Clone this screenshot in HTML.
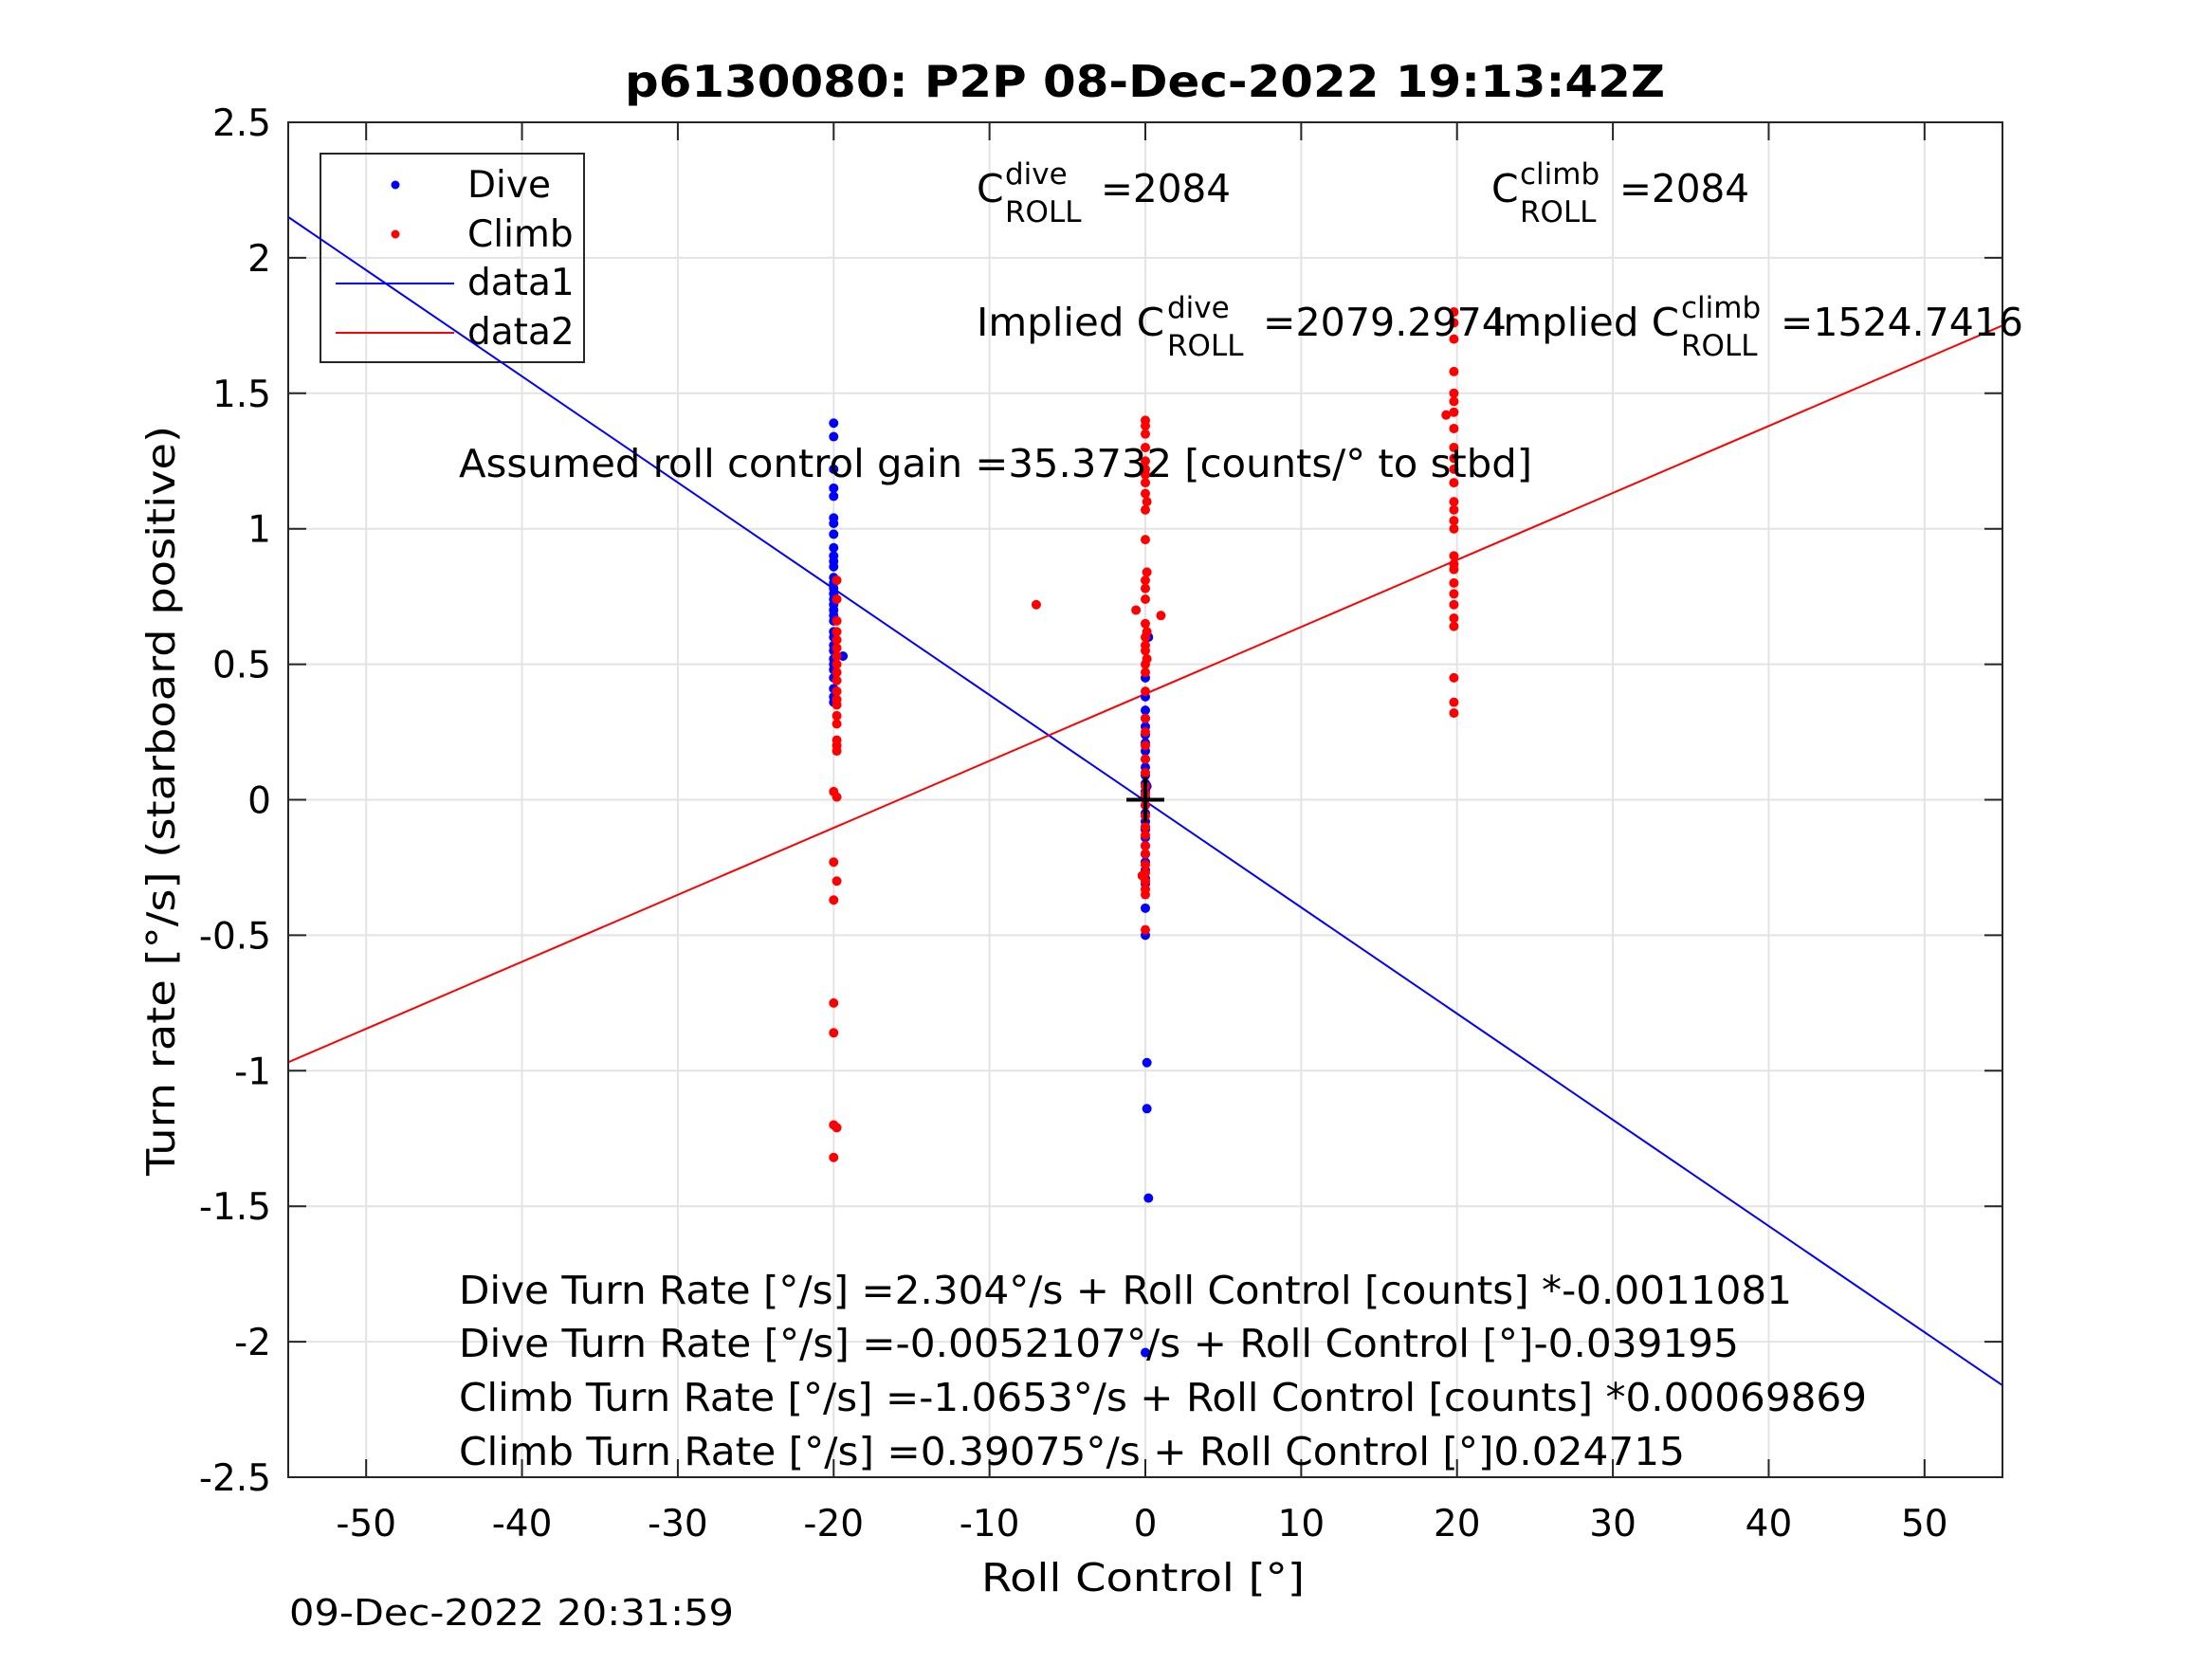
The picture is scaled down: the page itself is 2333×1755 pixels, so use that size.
<!DOCTYPE html>
<html><head><meta charset="utf-8"><style>
body{margin:0;background:#fff}
svg text{font-family:"DejaVu Sans","Liberation Sans",sans-serif;fill:#000}
</style></head><body>
<svg id="chart" width="2333" height="1750" viewBox="0 0 2333 1750" xmlns="http://www.w3.org/2000/svg">
<rect width="2333" height="1750" fill="#fff"/>
<g id="grid"></g>
<g>
<rect x="338" y="162" width="278" height="220" fill="none" stroke="#262626" stroke-width="2"/>
<circle cx="417" cy="195" r="4.5" fill="#00f"/><text x="493" y="208" font-size="39">Dive</text>
<circle cx="417" cy="247" r="4.5" fill="#f00"/><text x="493" y="260" font-size="39">Climb</text>
<line x1="354" y1="299" x2="479" y2="299" stroke="#00f" stroke-width="2"/><text x="493" y="311" font-size="39">data1</text>
<line x1="354" y1="351" x2="479" y2="351" stroke="#f00" stroke-width="2"/><text x="493" y="363" font-size="39">data2</text>
</g>
<g id="lines"></g>
<g id="pts"></g>
<g id="axes"></g>
<text x="659" y="102" font-size="46" font-weight="bold" textLength="1097" lengthAdjust="spacingAndGlyphs">p6130080: P2P 08-Dec-2022 19:13:42Z</text>
<g font-size="41">
<text x="1030" y="213">C</text><text x="1060" y="194" font-size="31">dive</text><text x="1060" y="234" font-size="31">ROLL</text><text x="1161" y="213" textLength="137" lengthAdjust="spacingAndGlyphs">=2084</text></g>
<g font-size="41">
<text x="1573" y="213">C</text><text x="1603" y="194" font-size="31">climb</text><text x="1603" y="234" font-size="31">ROLL</text><text x="1708" y="213" textLength="137" lengthAdjust="spacingAndGlyphs">=2084</text></g>
<g font-size="41">
<text x="1030" y="354" textLength="198" lengthAdjust="spacingAndGlyphs">Implied C</text><text x="1231" y="335" font-size="31">dive</text><text x="1231" y="375" font-size="31">ROLL</text><text x="1332" y="354" textLength="257" lengthAdjust="spacingAndGlyphs">=2079.2974</text></g>
<g font-size="41">
<text x="1573" y="354" textLength="198" lengthAdjust="spacingAndGlyphs">Implied C</text><text x="1773" y="335" font-size="31">climb</text><text x="1773" y="375" font-size="31">ROLL</text><text x="1878" y="354" textLength="256" lengthAdjust="spacingAndGlyphs">=1524.7416</text></g>
<text x="484" y="503" font-size="41" textLength="1132" lengthAdjust="spacingAndGlyphs">Assumed roll control gain =35.3732 [counts/° to stbd]</text>
<g font-size="41">
<text x="484" y="1375" textLength="1406" lengthAdjust="spacingAndGlyphs">Dive Turn Rate [°/s] =2.304°/s + Roll Control [counts] *-0.0011081</text>
<text x="484" y="1431" textLength="1350" lengthAdjust="spacingAndGlyphs">Dive Turn Rate [°/s] =-0.0052107°/s + Roll Control [°]-0.039195</text>
<text x="484" y="1488" textLength="1485" lengthAdjust="spacingAndGlyphs">Climb Turn Rate [°/s] =-1.0653°/s + Roll Control [counts] *0.00069869</text>
<text x="484" y="1545" textLength="1293" lengthAdjust="spacingAndGlyphs">Climb Turn Rate [°/s] =0.39075°/s + Roll Control [°]0.024715</text></g>
<text x="1035" y="1678" font-size="41" fill="#262626" textLength="341" lengthAdjust="spacingAndGlyphs">Roll Control [°]</text>
<text transform="translate(184,1240) rotate(-90)" font-size="41" fill="#262626" textLength="791" lengthAdjust="spacingAndGlyphs">Turn rate [°/s] (starboard positive)</text>
<text x="305" y="1714" font-size="38" textLength="469" lengthAdjust="spacingAndGlyphs">09-Dec-2022 20:31:59</text>
</svg>
<script>
const xTicks=[-50,-40,-30,-20,-10,0,10,20,30,40,50];
const yTicks=[-2.5,-2,-1.5,-1,-0.5,0,0.5,1,1.5,2,2.5];
const yTickLabels=["-2.5","-2","-1.5","-1","-0.5","0","0.5","1","1.5","2","2.5"];
// dive points (x = roll control deg, y = turn rate)
const diveX=[
-20,-20,-20,-20,-20,-20,-20,-20,-20,-20,
-20,-20,-20,-20,-20,-20,-20,-20,-20,-20,
-20,-20,-20,-20,-20,-20,-20,-20,-20,-20,
-20,-20,-19.4,
0.2,0,0,0,0,0,0,0,0,0,
0,0,0,0,0,0,0,0,0,0,
0,0,0,0,0,0,0,0,0,0,
0.1,0.1,0,0.1,0.2];
const diveY=[
1.39,1.34,1.22,1.15,1.12,1.04,1.02,0.98,0.93,0.9,
0.88,0.86,0.82,0.8,0.78,0.76,0.74,0.72,0.7,0.68,
0.66,0.62,0.6,0.57,0.55,0.52,0.5,0.48,0.45,0.41,
0.38,0.36,0.53,
0.6,0.45,0.38,0.33,0.3,0.27,0.24,0.21,0.18,0.15,
0.12,0.09,0.06,0.03,0.01,-0.02,-0.05,-0.08,-0.11,-0.14,
-0.17,-0.2,-0.23,-0.26,-0.29,-0.31,-0.4,-0.5,-0.2,-0.1,
-0.97,-1.14,-2.04,0.05,-1.47];
// climb points
const climbX=[
-19.8,-19.8,-19.8,-19.8,-19.8,-19.8,-19.8,-19.8,-19.8,-19.8,
-19.8,-19.8,-19.8,-19.8,-19.8,-19.8,-19.8,-19.8,-20,-19.8,
-20,-19.8,-20,-20,-20,-20,-19.8,-20,
-7,
0,0,0,0,0,0,0,0,0,0.1,
0,0,0.1,0,0,0,-0.6,1,0,0.1,
0,0,0,0.1,0,0,0,0,0,0,
0,0,0,0,0,0,0,0,0,0,
0,0,0,0,0,-0.2,0,
19.8,19.8,19.8,19.8,19.8,19.8,19.3,19.8,19.8,19.8,
19.8,19.8,19.8,19.8,19.8,19.8,19.8,19.8,19.8,19.8,
19.8,19.8,19.8,19.8,19.8,19.8,19.8,19.8];
const climbY=[
0.81,0.74,0.66,0.62,0.59,0.56,0.53,0.5,0.47,0.44,
0.4,0.37,0.35,0.31,0.28,0.22,0.2,0.18,0.03,0.01,
-0.23,-0.3,-0.37,-0.75,-0.86,-1.2,-1.21,-1.32,
0.72,
1.4,1.38,1.35,1.3,1.25,1.22,1.2,1.17,1.13,1.1,
1.07,0.96,0.84,0.81,0.78,0.74,0.7,0.68,0.65,0.62,
0.6,0.57,0.55,0.52,0.5,0.47,0.4,0.3,0.25,0.2,
0.15,0.1,0.05,0.02,-0.02,-0.06,-0.1,-0.13,-0.17,-0.2,
-0.24,-0.27,-0.3,-0.33,-0.35,-0.28,-0.48,
1.8,1.76,1.7,1.58,1.5,1.47,1.42,1.43,1.37,1.3,
1.26,1.22,1.17,1.1,1.07,1.03,1.0,0.9,0.87,0.85,
0.8,0.76,0.72,0.67,0.64,0.45,0.36,0.32];
const diveFit=[-0.0052107,-0.039195];
const climbFit=[0.39075,0.024715];
const xRange=[-55,55], yRange=[-2.5,2.5];
const L=304,R=2112,T=129,B=1558;
const sx=v=>L+(v-xRange[0])/(xRange[1]-xRange[0])*(R-L);
const sy=v=>B-(v-yRange[0])/(yRange[1]-yRange[0])*(B-T);
const NS='http://www.w3.org/2000/svg';
function mk(p,tag,a){const e=document.createElementNS(NS,tag);for(const k in a)e.setAttribute(k,a[k]);p.appendChild(e);return e;}
const grid=document.getElementById('grid'),axes=document.getElementById('axes'),lines=document.getElementById('lines'),pts=document.getElementById('pts');
xTicks.forEach((t,i)=>{const x=sx(t);
 const g=mk(grid,'line',{x1:x,y1:T,x2:x,y2:B,stroke:'#e3e3e3','stroke-width':2});
 
 
 mk(axes,'line',{x1:x,y1:B,x2:x,y2:B-19,stroke:'#262626','stroke-width':2});
 mk(axes,'line',{x1:x,y1:T,x2:x,y2:T+19,stroke:'#262626','stroke-width':2});
 const tx=mk(axes,'text',{x:x,y:1620,'font-size':39,'text-anchor':'middle',fill:'#262626'});tx.textContent=String(t);
 
 
});
yTicks.forEach((t,i)=>{const y=sy(t);
 const g=mk(grid,'line',{x1:L,y1:y,x2:R,y2:y,stroke:'#e3e3e3','stroke-width':2});
 
 
 mk(axes,'line',{x1:L,y1:y,x2:L+19,y2:y,stroke:'#262626','stroke-width':2});
 mk(axes,'line',{x1:R,y1:y,x2:R-19,y2:y,stroke:'#262626','stroke-width':2});
 const tx=mk(axes,'text',{x:286,y:y+14,'font-size':39,'text-anchor':'end',fill:'#262626'});tx.textContent=yTickLabels[i];
 
 
});
const box=mk(axes,'rect',{x:L,y:T,width:R-L,height:B-T,fill:'none',stroke:'#262626','stroke-width':2});


function fitLine(f,col,name){
 const x0=xRange[0],x1=xRange[1];
 const l=mk(lines,'line',{x1:sx(x0),y1:sy(f[0]+f[1]*x0),x2:sx(x1),y2:sy(f[0]+f[1]*x1),stroke:col,'stroke-width':2});
 
 
}
fitLine(diveFit,'#00f','dive-fit-line');
fitLine(climbFit,'#f00','climb-fit-line');
const nD=Math.min(diveX.length,diveY.length);
for(let i=0;i<nD;i++){const c=mk(pts,'circle',{cx:sx(diveX[i]),cy:sy(diveY[i]),r:5,fill:'#00f'});
 
 }
const nC=Math.min(climbX.length,climbY.length);
for(let i=0;i<nC;i++){const c=mk(pts,'circle',{cx:sx(climbX[i]),cy:sy(climbY[i]),r:5,fill:'#f00'});
 
 }
const cx=sx(0),cy=sy(0);
const p1=mk(pts,'line',{x1:cx-20,y1:cy,x2:cx+20,y2:cy,stroke:'#000','stroke-width':4});


const p2=mk(pts,'line',{x1:cx,y1:cy-24,x2:cx,y2:cy+24,stroke:'#000','stroke-width':4});


</script>
</body></html>
